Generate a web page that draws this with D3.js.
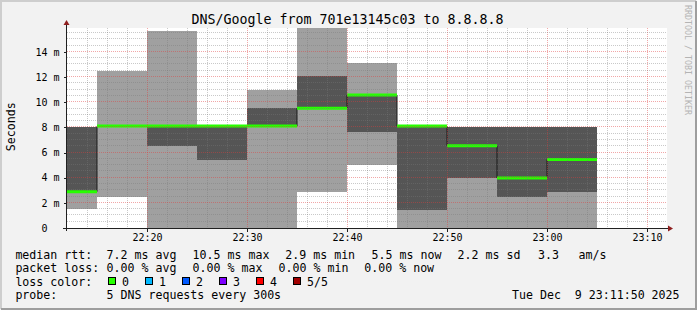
<!DOCTYPE html>
<html>
<head>
<meta charset="utf-8">
<script src="https://cdn.jsdelivr.net/npm/d3@7"></script>
<style>
body { margin: 0; background: #f2f2f2; }
svg { display: block; }
text { font-family: "DejaVu Sans Mono", monospace; fill: #000; white-space: pre; }
</style>
</head>
<body>
<svg id="chart" width="697" height="310"></svg>
<script>
// step boundaries (5 minute pings), last entry closes the last step
const stepTimes = ["22:10", "22:15", "22:20", "22:25", "22:30", "22:35", "22:40", "22:45", "22:50", "22:55", "23:00", "23:05"];
// smoke: sorted ping rtts in ms (min, 2nd, median, 4th, max)
const pingMin  = [1.48, 2.49, 0,    0,    0,     2.89,  5.01,  0,    0,    0,    0];
const pingLow  = [2.89, 8.05, 6.55, 5.43, 8.10,  9.52,  7.63,  1.46, 4.00, 2.49, 2.89];
const medians  = [2.89, 8.10, 8.10, 8.10, 8.10,  9.52,  10.57, 8.10, 6.54, 3.97, 5.45];
const pingHigh = [8.05, 8.10, 8.10, 8.10, 9.56,  12.08, 10.57, 8.10, 8.03, 8.03, 8.03];
const pingMax  = [8.05, 12.50, 15.66, 8.10, 10.99, 15.90, 13.12, 8.10, 8.03, 8.03, 8.03];

const yTicks = [0, 2, 4, 6, 8, 10, 12, 14];
const xTicks = ["22:20", "22:30", "22:40", "22:50", "23:00", "23:10"];

const title = "DNS/Google from 701e13145c03 to 8.8.8.8";
const yLabel = "Seconds";
const watermark = "RRDTOOL / TOBI OETIKER";

const rttLabel = "median rtt:";
const rttStats = ["7.2 ms avg", "10.5 ms max", "2.9 ms min", "5.5 ms now", "2.2 ms sd", "3.3", "am/s"];
const lossLabel = "packet loss:";
const lossStats = ["0.00 % avg", "0.00 % max", "0.00 % min", "0.00 % now"];
const lossColorLabel = "loss color:";
const lossNames = ["0", "1", "2", "3", "4", "5/5"];
const lossColors = ["#26ff00", "#00b8ff", "#0059ff", "#7e00ff", "#ff0000", "#a10000"];
const probeLabel = "probe:";
const probeText = "5 DNS requests every 300s";
const stampText = "Tue Dec  9 23:11:50 2025";

var W = 697, H = 310;
var plotL = 67, plotR = 667, plotT = 28, plotB = 228;
var parseTime = d3.timeParse("%H:%M");

var svg = d3.select("#chart");

// background and 3d frame
svg.append("rect").attr("width", W).attr("height", H).attr("fill", "#f2f2f2");
svg.append("path").attr("d", "M1,309V1H696").attr("fill", "none").attr("stroke", "#cecece").attr("stroke-width", 2);
svg.append("path").attr("d", "M1,309H696V1").attr("fill", "none").attr("stroke", "#9e9e9e").attr("stroke-width", 2);

var x = d3.scaleTime().domain([parseTime("22:12"), parseTime("23:12")]).range([plotL, plotR]);
var y = d3.scaleLinear().domain([0, 15.9]).range([plotB, plotT]);

svg.append("defs").append("clipPath").attr("id", "plotclip")
    .append("rect").attr("x", plotL).attr("y", plotT).attr("width", plotR - plotL).attr("height", plotB - plotT);

svg.append("rect")
    .attr("x", plotL).attr("y", plotT)
    .attr("width", plotR - plotL).attr("height", plotB - plotT)
    .attr("fill", "#ffffff");

var plot = svg.append("g").attr("clip-path", "url(#plotclip)");

var steps = medians.map(function (m, i) {
    return {
        t0: parseTime(stepTimes[i]), t1: parseTime(stepTimes[i + 1]),
        min: pingMin[i], low: pingLow[i], med: m, high: pingHigh[i], max: pingMax[i]
    };
});

// outer smoke (min..max)
plot.selectAll("rect.smoke1").data(steps).enter().append("rect")
    .attr("class", "smoke1")
    .attr("x", d => x(d.t0)).attr("width", d => x(d.t1) - x(d.t0))
    .attr("y", d => y(d.max)).attr("height", d => y(d.min) - y(d.max))
    .attr("fill", "#a0a0a0").attr("shape-rendering", "crispEdges");

// inner smoke (2nd..4th)
plot.selectAll("rect.smoke2").data(steps).enter().append("rect")
    .attr("class", "smoke2")
    .attr("x", d => x(d.t0)).attr("width", d => x(d.t1) - x(d.t0))
    .attr("y", d => y(d.high)).attr("height", d => y(d.low) - y(d.high))
    .attr("fill", "#555555").attr("shape-rendering", "crispEdges");

// median step line
var medPts = steps.map(d => [x(d.t0), y(d.med)]);
medPts.push([x(steps[steps.length - 1].t1), y(steps[steps.length - 1].med)]);
plot.append("path")
    .attr("d", d3.line().curve(d3.curveStepAfter)(medPts))
    .attr("fill", "none").attr("stroke", "#1a1a1a").attr("stroke-width", 1);

// loss coloured median segments
plot.selectAll("line.med").data(steps).enter().append("line")
    .attr("class", "med")
    .attr("x1", d => x(d.t0)).attr("x2", d => x(d.t1))
    .attr("y1", d => y(d.med)).attr("y2", d => y(d.med))
    .attr("stroke", lossColors[0]).attr("stroke-width", 3);

// grid on top
var grid = svg.append("g").attr("shape-rendering", "crispEdges").attr("stroke-dasharray", "1,1");
var minutes = d3.timeMinute.every(2).range(parseTime("22:14"), parseTime("23:12"));
minutes.forEach(function (t) {
    var major = t.getMinutes() % 10 === 0;
    grid.append("line")
        .attr("x1", x(t) + 0.5).attr("x2", x(t) + 0.5)
        .attr("y1", plotT).attr("y2", plotB)
        .attr("stroke", major ? "rgba(225,60,60,0.45)" : "rgba(120,120,120,0.4)");
});
d3.range(1, 32).forEach(function (k) {
    var v = k / 2;
    if (y(v) < plotT) return;
    var major = v % 2 === 0;
    var py = Math.round(y(v)) - 0.5;
    grid.append("line")
        .attr("x1", plotL).attr("x2", plotR)
        .attr("y1", py).attr("y2", py)
        .attr("stroke", major ? "rgba(225,60,60,0.45)" : "rgba(120,120,120,0.4)");
});

// axes
var yAxis = svg.append("g")
    .attr("transform", "translate(" + (plotL - 0.5) + ",0)")
    .call(d3.axisLeft(y).tickValues(yTicks).tickSize(3).tickPadding(4)
        .tickFormat(d => d === 0 ? "0" : d + " m"));
yAxis.select(".domain").remove();
yAxis.selectAll(".tick text").attr("font-family", "DejaVu Sans Mono").attr("font-size", 10);
yAxis.selectAll(".tick text").filter(d => d === 0).attr("dx", -12);
yAxis.selectAll(".tick line").attr("stroke", "#202020").attr("shape-rendering", "crispEdges");

var xAxis = svg.append("g")
    .attr("transform", "translate(0," + (plotB + 0.5) + ")")
    .call(d3.axisBottom(x).tickValues(xTicks.map(parseTime)).tickSize(3).tickPadding(2.5)
        .tickFormat(d3.timeFormat("%H:%M")));
xAxis.select(".domain").remove();
xAxis.selectAll(".tick text").attr("font-family", "DejaVu Sans Mono").attr("font-size", 10);
xAxis.selectAll(".tick line").attr("stroke", "#202020").attr("shape-rendering", "crispEdges");

svg.append("line").attr("x1", plotL - 0.5).attr("x2", plotL - 0.5).attr("y1", plotB + 3).attr("y2", 22)
    .attr("stroke", "#202020").attr("shape-rendering", "crispEdges");
svg.append("line").attr("x1", plotL - 4).attr("x2", plotR + 2).attr("y1", plotB + 0.5).attr("y2", plotB + 0.5)
    .attr("stroke", "#202020").attr("shape-rendering", "crispEdges");
svg.append("path").attr("d", "M" + (plotL - 3.5) + ",25L" + (plotL - 0.5) + ",20L" + (plotL + 2.5) + ",25Z").attr("fill", "#8f1f1f");
svg.append("path").attr("d", "M" + (plotR + 1) + "," + (plotB - 2.5) + "L" + (plotR + 6) + "," + (plotB + 0.5) + "L" + (plotR + 1) + "," + (plotB + 3.5) + "Z").attr("fill", "#8f1f1f");

// titles
svg.append("text").attr("x", 347.5).attr("y", 24).attr("text-anchor", "middle")
    .attr("font-size", 13.3).text(title);
svg.append("text").attr("transform", "translate(14.7,126.7) rotate(-90)").attr("text-anchor", "middle")
    .attr("font-size", 11.6).text(yLabel);
svg.append("text").attr("transform", "translate(685,5) rotate(90)")
    .attr("font-size", 8.3).style("fill", "#b4b4b4").text(watermark);

// legend
var fs = 11.6;
var rows = [258.5, 272, 285.5, 299];
var rttX = [106.6, 192.6, 285.3, 371.6, 457.6, 538, 578.6];
var lossX = [106.6, 192.6, 278.6, 364.3];
function legendText(tx, ty, s) {
    svg.append("text").attr("x", tx).attr("y", ty).attr("font-size", fs).text(s);
}
legendText(15.4, rows[0], rttLabel);
rttStats.forEach((s, i) => legendText(rttX[i], rows[0], s));
legendText(15.4, rows[1], lossLabel);
lossStats.forEach((s, i) => legendText(lossX[i], rows[1], s));
legendText(15.4, rows[2], lossColorLabel);
lossNames.forEach(function (n, i) {
    var bx = 108.5 + i * 37;
    svg.append("rect").attr("x", bx).attr("y", rows[2] - 8).attr("width", 7).attr("height", 7)
        .attr("fill", lossColors[i]).attr("stroke", "#000").attr("shape-rendering", "crispEdges");
    legendText(bx + 13.5, rows[2], n);
});
legendText(15.4, rows[3], probeLabel);
legendText(106.6, rows[3], probeText);
legendText(512, rows[3], stampText);
</script>
</body>
</html>
